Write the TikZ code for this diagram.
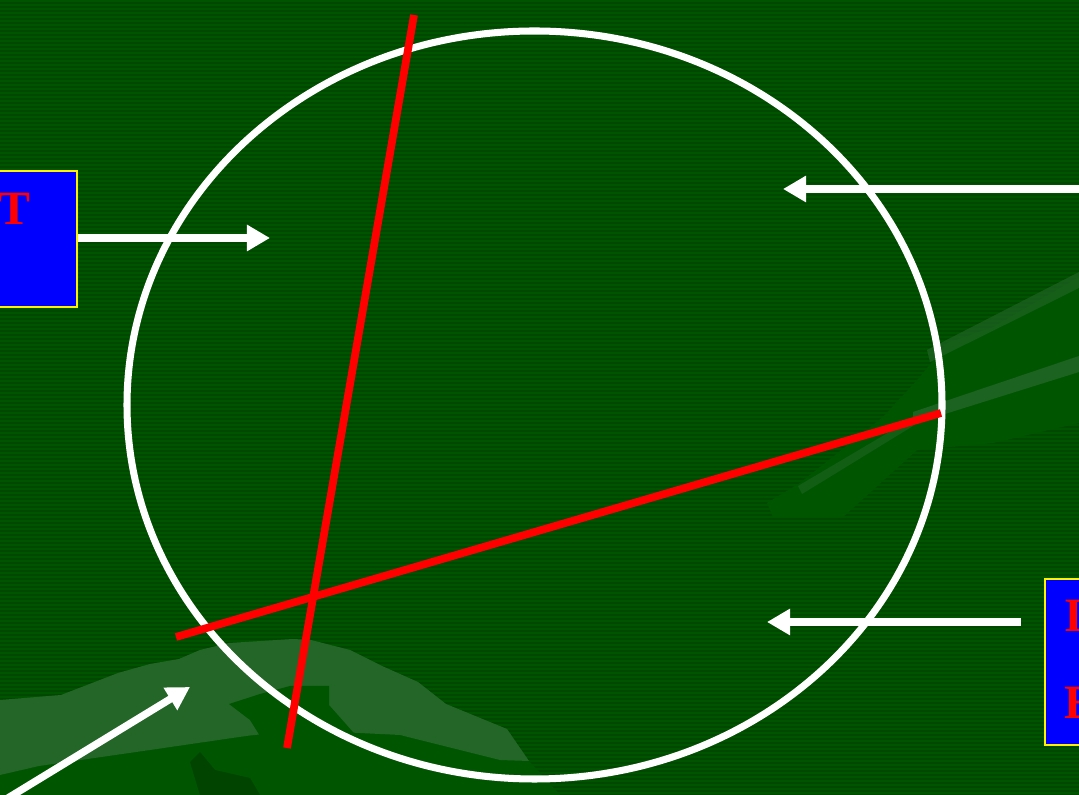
\documentclass[tikz,border=0pt]{standalone}
\usepackage{fontspec}
\setmainfont{Liberation Serif}
\usetikzlibrary{arrows.meta,positioning}
\definecolor{boardgreen}{RGB}{0,72,0}
\definecolor{stripegreen}{RGB}{0,84,0}
\definecolor{swooshlight}{RGB}{36,102,40}
\definecolor{swooshmid}{RGB}{0,86,0}
\definecolor{swooshdark}{RGB}{0,68,0}
\definecolor{boxblue}{RGB}{0,0,255}

\begin{document}
\begin{tikzpicture}[x=0.01cm,y=-0.01cm,
  infobox/.style={draw=yellow,fill=boxblue,line width=0.6pt,inner sep=0pt,
    minimum width=2cm},
  boxtext/.style={text=red,inner sep=0pt,
    font=\fontsize{13.6}{16}\selectfont\bfseries},
  pointer/.style={draw=white,line width=2.1pt,
    -{Triangle[length=0.23cm,width=0.25cm]}},
  chord/.style={draw=red,line width=2.2pt},
  swoosh/.style={fill=swooshlight},
  shade/.style={fill=swooshmid}
]
% board with stripes
\fill[boardgreen] (0,0) rectangle (1079,795);
\foreach \y in {0,4,...,792}
  \fill[stripegreen] (0,\y) rectangle (1079,\y+2);
\useasboundingbox (0,0) rectangle (1079,795);

% background swooshes
\fill[shade] (767,503) -- (800,483) -- (883,417) -- (920,377) -- (947,343)
  -- (993,327) -- (1079,277) -- (1079,423) -- (993,443) -- (917,450)
  -- (843,517) -- (773,517) -- cycle;
\fill[swoosh,opacity=.8] (913,412) -- (1079,356) -- (1079,372) -- (913,424) -- cycle;
\fill[swoosh,opacity=.5] (798,486) -- (913,418) -- (913,426) -- (802,494) -- cycle;
\fill[swoosh,opacity=.6] (927,350) -- (1079,272) -- (1079,288) -- (930,362) -- cycle;
\fill[shade] (0,775) -- (39,766) -- (150,750) -- (246,736) -- (300,730)
  -- (400,735) -- (529,761) -- (560,795) -- (0,795) -- cycle;
\fill[swoosh] (0,700) -- (61,695) -- (118,673) -- (150,664) -- (179,659)
  -- (200,650) -- (229,643) -- (293,639) -- (311,640) -- (350,650)
  -- (382,666) -- (418,682) -- (446,704) -- (507,729) -- (529,761)
  -- (500,760) -- (400,735) -- (300,730) -- (246,736) -- (150,750)
  -- (39,766) -- (0,775) -- cycle;
\fill[shade] (229,704) -- (260,694) -- (290,686) -- (329,686) -- (329,705)
  -- (360,740) -- (400,795) -- (290,795) -- (275,760) -- (250,720) -- cycle;
\fill[swooshdark] (190,762) -- (200,752) -- (215,770) -- (250,778)
  -- (260,795) -- (200,795) -- cycle;

% circle and chords
\coordinate (rim) at (534.5,405);
\draw[white,line width=2pt] (rim) ellipse [x radius=407.5,y radius=374];
\coordinate (c1a) at (414,15);
\coordinate (c1b) at (287,748);
\coordinate (c2a) at (176,637);
\coordinate (c2b) at (941,413);
\draw[chord] (c1a) -- (c1b);
\draw[chord] (c2a) -- (c2b);

% labels
\node[infobox,minimum height=1.36cm] (lbox) at (-23,239) {};
\node[boxtext,anchor=base east] (ltext) at (31,225) {T};
\node[infobox,minimum height=1.66cm] (rbox) at (1145,662) {};
\node[boxtext,anchor=base west] (rtext1) at (1064,632) {I};
\node[boxtext,anchor=base west] (rtext2) at (1064,719) {E};

% pointers
\coordinate (ltip) at (270,238);
\coordinate (ttail) at (1090,189);
\coordinate (ttip) at (783,189);
\coordinate (rtip) at (767,622);
\coordinate (btail) at (-10,809);
\coordinate (btip) at (190,687);
\draw[pointer] (lbox.east |- ltip) -- (ltip);
\draw[pointer] (ttail) -- (ttip);
\draw[pointer,shorten <=0.23cm] (rbox.west |- rtip) -- (rtip);
\draw[pointer] (btail) -- (btip);
\end{tikzpicture}
\end{document}
